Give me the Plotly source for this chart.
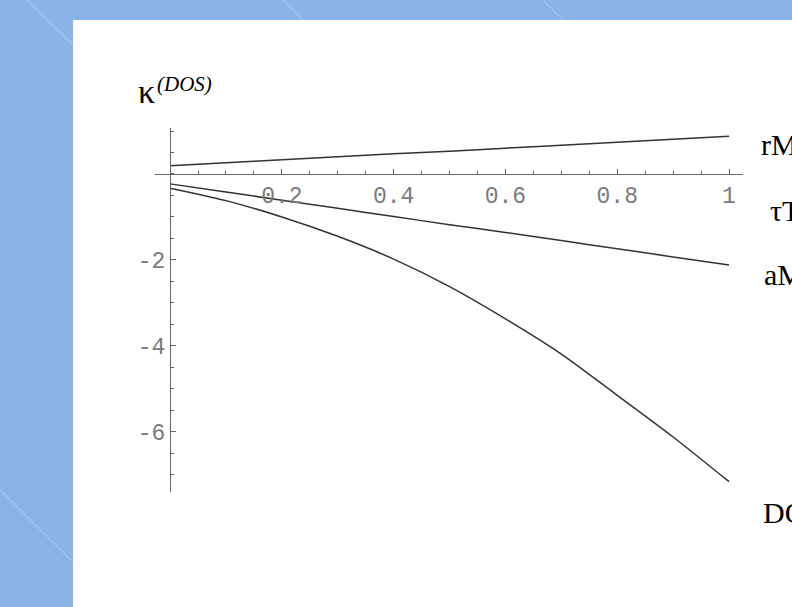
import plotly.graph_objects as go

# sample points along the horizontal variable
x_vals = [0.0, 0.1, 0.2, 0.3, 0.4, 0.5, 0.6, 0.7, 0.8, 0.9, 1.0]

# the three curves
rm_vals = [0.19, 0.26, 0.33, 0.40, 0.47, 0.53, 0.60, 0.67, 0.74, 0.81, 0.88]
am_vals = [-0.23, -0.42, -0.61, -0.80, -0.99, -1.18, -1.36, -1.55, -1.74, -1.93, -2.12]
dos_vals = [-0.33, -0.62, -1.00, -1.45, -1.98, -2.62, -3.37, -4.19, -5.15, -6.12, -7.16]

# axis ticks
x_tickvals = [0.2, 0.4, 0.6, 0.8, 1.0]
x_ticktext = ["0.2", "0.4", "0.6", "0.8", "1"]
y_tickvals = [-6, -4, -2]
y_ticktext = ["-6", "-4", "-2"]

# curve labels at the right edge
curve_labels = ["rM", "τT", "aM", "DO"]

X_RANGE = [-0.027, 1.025]
Y_RANGE = [-7.4, 1.07]

W, H = 792, 607
ML, MR, MT, MB = 155, 49, 128, 115
PW, PH = W - ML - MR, H - MT - MB


def px(x):
    return (x - ML) / PW


def py(y):
    return (H - MB - y) / PH


LINE = dict(color="#333333", width=1.5, shape="spline", smoothing=0.8)

fig = go.Figure()
for vals in (rm_vals, am_vals, dos_vals):
    fig.add_trace(go.Scatter(x=x_vals, y=vals, mode="lines", line=LINE,
                             showlegend=False, hoverinfo="skip"))

tick_font = dict(family="Liberation Mono, Courier New, monospace", size=23, color="#7a7a7a")

# axes cross at the origin
x_cross = (0 - Y_RANGE[0]) / (Y_RANGE[1] - Y_RANGE[0])
y_cross = (0 - X_RANGE[0]) / (X_RANGE[1] - X_RANGE[0])

fig.update_xaxes(
    range=X_RANGE, anchor="free", position=x_cross,
    showline=True, linecolor="#666666", linewidth=1.3,
    showgrid=False, zeroline=False,
    tickmode="array", tickvals=x_tickvals, ticktext=x_ticktext,
    ticks="inside", ticklen=5, tickwidth=1, tickcolor="#666666",
    minor=dict(ticks="inside", dtick=0.05, ticklen=3, tickcolor="#666666", tickwidth=1, showgrid=False),
    tickfont=tick_font, ticklabelstandoff=0,
)
fig.update_yaxes(
    range=Y_RANGE, anchor="free", position=y_cross,
    showline=True, linecolor="#666666", linewidth=1.3,
    showgrid=False, zeroline=False,
    tickmode="array", tickvals=y_tickvals, ticktext=y_ticktext,
    ticks="inside", ticklen=5, tickwidth=1, tickcolor="#666666",
    minor=dict(ticks="inside", dtick=0.5, ticklen=3, tickcolor="#666666", tickwidth=1, showgrid=False),
    tickfont=tick_font,
)

shapes = [
    # white slide panel
    dict(type="rect", xref="paper", yref="paper", layer="below",
         x0=px(73), x1=px(W + 5), y0=py(H + 5), y1=py(20),
         fillcolor="white", line=dict(width=0)),
]
# faint diagonal streaks on the blue backdrop
for (a, b, c, d) in [(27, 0, 73, 45), (283, 0, 303, 20), (543, 0, 563, 20), (0, 490, 73, 562)]:
    shapes.append(dict(type="line", xref="paper", yref="paper", layer="below",
                       x0=px(a), y0=py(b), x1=px(c), y1=py(d),
                       line=dict(color="rgba(255,255,255,0.35)", width=1)))

serif = "Liberation Serif, Times New Roman, serif"
annotations = [
    dict(text="κ", xref="paper", yref="paper", x=px(136), y=py(92),
         xanchor="left", yanchor="middle", showarrow=False,
         font=dict(family=serif, size=34, color="black")),
    dict(text="<i>(DOS)</i>", xref="paper", yref="paper", x=px(155), y=py(84),
         xanchor="left", yanchor="middle", showarrow=False,
         font=dict(family=serif, size=21, color="black")),
]
for lbl, lx, ly in zip(curve_labels, [759, 768, 762, 761], [145, 210, 274, 512]):
    annotations.append(dict(text=lbl, xref="paper", yref="paper", x=px(lx), y=py(ly),
                            xanchor="left", yanchor="middle", showarrow=False,
                            font=dict(family=serif, size=30, color="black")))

fig.update_layout(
    width=W, height=H,
    margin=dict(l=ML, r=MR, t=MT, b=MB),
    paper_bgcolor="#8AB3E8", plot_bgcolor="rgba(0,0,0,0)",
    shapes=shapes, annotations=annotations,
)

fig.write_html("out.html")
